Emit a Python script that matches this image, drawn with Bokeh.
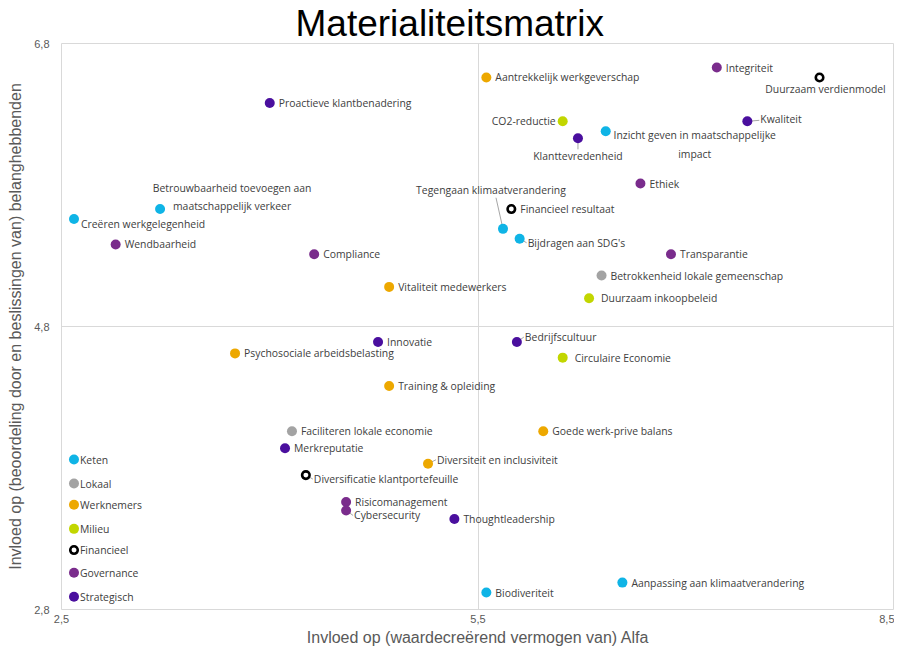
from bokeh.plotting import figure
from bokeh.models import ColumnDataSource, FixedTicker, CustomJSTickFormatter, Title
from bokeh.embed import file_html
from bokeh.resources import INLINE
from bokeh.core.properties import value

# ---- data ----
names = [
    "Proactieve klantbenadering", "Betrouwbaarheid toevoegen aan\nmaatschappelijk verkeer",
    "Creëren werkgelegenheid", "Wendbaarheid", "Compliance", "Vitaliteit medewerkers",
    "Aantrekkelijk werkgeverschap", "Integriteit", "Duurzaam verdienmodel", "CO2-reductie",
    "Klanttevredenheid", "Inzicht geven in maatschappelijke\nimpact", "Kwaliteit", "Ethiek",
    "Financieel resultaat", "Tegengaan klimaatverandering", "Bijdragen aan SDG's",
    "Transparantie", "Betrokkenheid lokale gemeenschap", "Duurzaam inkoopbeleid",
    "Innovatie", "Psychosociale arbeidsbelasting", "Bedrijfscultuur", "Circulaire Economie",
    "Training & opleiding", "Faciliteren lokale economie", "Goede werk-prive balans",
    "Merkreputatie", "Diversiteit en inclusiviteit", "Diversificatie klantportefeuille",
    "Risicomanagement", "Cybersecurity", "Thoughtleadership",
    "Aanpassing aan klimaatverandering", "Biodiveriteit",
    "Keten", "Lokaal", "Werknemers", "Milieu", "Financieel", "Governance", "Strategisch",
]
alfa = [
    4.00, 3.21, 2.59, 2.89, 4.32, 4.86,
    5.56, 7.22, 7.96, 6.11,
    6.22, 6.42, 7.44, 6.67,
    5.74, 5.68, 5.80,
    6.89, 6.39, 6.30,
    4.78, 3.75, 5.78, 6.11,
    4.86, 4.16, 5.97,
    4.11, 5.14, 4.26,
    4.55, 4.55, 5.33,
    6.54, 5.56,
    2.59, 2.59, 2.59, 2.59, 2.59, 2.59, 2.59,
]
stakeholders = [
    6.38, 5.63, 5.56, 5.38, 5.31, 5.08,
    6.56, 6.63, 6.56, 6.25,
    6.13, 6.18, 6.25, 5.81,
    5.63, 5.49, 5.42,
    5.31, 5.16, 5.00,
    4.69, 4.61, 4.69, 4.58,
    4.38, 4.06, 4.06,
    3.94, 3.83, 3.75,
    3.56, 3.50, 3.44,
    2.99, 2.92,
    3.86, 3.69, 3.54, 3.37, 3.22, 3.06, 2.89,
]
category = [
    "Strategisch", "Keten", "Keten", "Governance", "Governance", "Werknemers",
    "Werknemers", "Governance", "Financieel", "Milieu",
    "Strategisch", "Keten", "Strategisch", "Governance",
    "Financieel", "Keten", "Keten",
    "Governance", "Lokaal", "Milieu",
    "Strategisch", "Werknemers", "Strategisch", "Milieu",
    "Werknemers", "Lokaal", "Werknemers",
    "Strategisch", "Werknemers", "Financieel",
    "Governance", "Governance", "Strategisch",
    "Keten", "Keten",
    "Keten", "Lokaal", "Werknemers", "Milieu", "Financieel", "Governance", "Strategisch",
]
categories = ["Keten", "Lokaal", "Werknemers", "Milieu", "Financieel", "Governance", "Strategisch"]
x_ticks = [2.5, 5.5, 8.5]
y_ticks = [2.8, 4.8, 6.8]

# ---- styling ----
fill_colors = {"Keten": "#0FB4E6", "Lokaal": "#A3A3A3", "Werknemers": "#EDA800",
               "Milieu": "#C2D600", "Financieel": "#FFFFFF", "Governance": "#7A2C8C",
               "Strategisch": "#4A0F9E"}
line_colors = dict(fill_colors, Financieel="#000000")
line_widths = {c: 0 for c in categories}
line_widths["Financieel"] = 2.6
sizes = {c: 10 for c in categories}
sizes["Financieel"] = 7.5

# label placement (pixels relative to point), alignment
dx = [9] * len(names)
dy = [0] * len(names)
align = ["left"] * len(names)
special = {
    1: (72, -12, "center"), 2: (7, 5, "left"), 8: (6, 12, "center"), 9: (-7, 0, "right"),
    10: (0, 18, "center"), 11: (89, 13, "center"), 12: (13, -2, "left"),
    15: (-12, -39, "center"), 16: (8, 4, "left"), 19: (12, 0, "left"),
    22: (8, -5, "left"), 23: (12, 0, "left"), 28: (9, -4, "left"), 29: (8, 4, "left"),
    31: (8, 5, "left"),
}
for i, (a, b, c) in special.items():
    dx[i], dy[i], align[i] = a, b, c
for i in range(35, 42):
    dx[i] = 6

src = ColumnDataSource(dict(
    x=alfa, y=stakeholders, name=names, cat=category,
    fill=[fill_colors[c] for c in category],
    line=[line_colors[c] for c in category],
    lw=[line_widths[c] for c in category],
    sz=[sizes[c] for c in category],
    dx=dx, dy=dy, align=align,
))

p = figure(width=894, height=648, x_range=(2.5, 8.5), y_range=(2.8, 6.8),
           output_backend="svg", toolbar_location=None,
           min_border_left=61, min_border_right=0, min_border_top=0, min_border_bottom=20)

p.title = Title(text="Materialiteitsmatrix", align="left", text_font="Liberation Sans",
                text_font_size="37px", text_font_style="normal", text_color="#000000",
                standoff=0, offset=234)

p.outline_line_color = "#D9D9D9"
p.outline_line_width = 1
p.background_fill_color = "white"
p.border_fill_color = "white"

for ax, ticks in ((p.xaxis[0], x_ticks), (p.yaxis[0], y_ticks)):
    ax.ticker = FixedTicker(ticks=ticks)
    ax.formatter = CustomJSTickFormatter(code="return tick.toFixed(1).replace('.', ',');")
    ax.axis_line_color = None
    ax.major_tick_line_color = None
    ax.minor_tick_line_color = None
    ax.major_tick_in = 0
    ax.major_tick_out = 0
    ax.minor_tick_in = 0
    ax.minor_tick_out = 0
    ax.major_label_text_font = "Liberation Sans"
    ax.major_label_text_font_size = "11px"
    ax.major_label_text_color = "#595959"
    ax.axis_label_text_font = "Liberation Sans"
    ax.axis_label_text_font_size = "16px"
    ax.axis_label_text_font_style = "normal"
    ax.axis_label_text_color = "#595959"

p.xaxis.axis_label = "Invloed op (waardecreërend vermogen van) Alfa"
p.yaxis.axis_label = "Invloed op (beoordeling door en beslissingen van) belanghebbenden"
p.xaxis.major_label_standoff = 5
p.yaxis.major_label_standoff = 12
p.xaxis.axis_label_standoff = 3
p.yaxis.axis_label_standoff = 7

p.xgrid.ticker = FixedTicker(ticks=[5.5])
p.ygrid.ticker = FixedTicker(ticks=[4.8])
p.xgrid.grid_line_color = "#D9D9D9"
p.ygrid.grid_line_color = "#D9D9D9"

# leader lines (derived from each point and its label offset)
px_per_x = 138.8
px_per_y = 141.0
leaders = {15: (dx[15] + 5, dy[15] + 8), 10: (0, dy[10] - 7), 12: (dx[12] - 1, dy[12] + 1),
           16: (dx[16] - 1, dy[16]), 22: (dx[22] - 1, dy[22]), 28: (dx[28] - 1, dy[28]),
           29: (dx[29] - 1, dy[29]), 31: (dx[31] - 1, dy[31])}
lx0, ly0, lx1, ly1 = [], [], [], []
for i, (ox, oy) in leaders.items():
    lx0.append(alfa[i]); ly0.append(stakeholders[i])
    lx1.append(alfa[i] + ox / px_per_x); ly1.append(stakeholders[i] - oy / px_per_y)
p.segment(x0=lx0, y0=ly0, x1=lx1, y1=ly1, line_color="#A6A6A6", line_width=1)

p.scatter("x", "y", source=src, size="sz", fill_color="fill", line_color="line", line_width="lw")

p.text("x", "y", text="name", source=src, x_offset="dx", y_offset="dy", text_align="align",
       text_baseline="middle", text_font=value("Open Sans"), text_font_size="10.4px",
       text_color="#404040", text_line_height=1.35)

open("out.html", "w").write(file_html(p, INLINE))
